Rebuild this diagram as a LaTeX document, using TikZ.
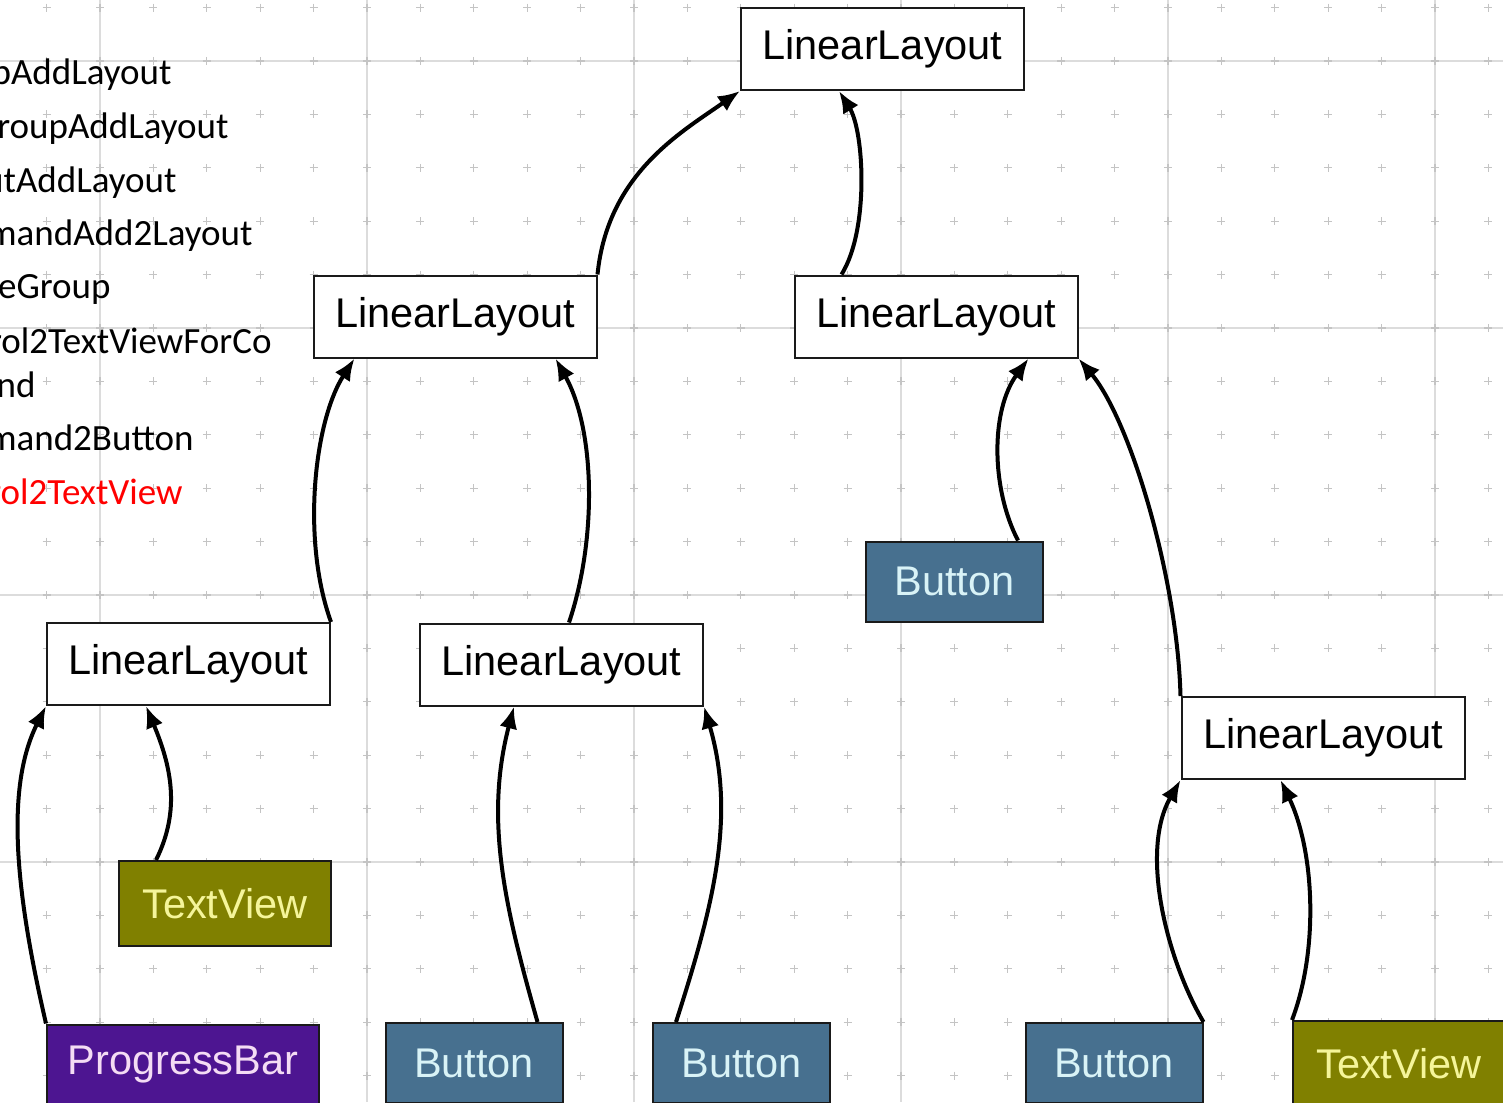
\documentclass[tikz,border=0pt]{standalone}
\usepackage{fontspec}
\usetikzlibrary{arrows.meta,calc}
\newfontfamily\boxfont{Liberation Sans}
\newfontfamily\notefont{Carlito}
\definecolor{gridln}{HTML}{DCDCDC}
\definecolor{gridtk}{HTML}{C4C4C4}
\definecolor{btnfill}{HTML}{47708F}
\definecolor{btntext}{HTML}{D9F3F7}
\definecolor{tvfill}{HTML}{808000}
\definecolor{tvtext}{HTML}{F5F59A}
\definecolor{pbfill}{HTML}{4D1591}
\definecolor{pbtext}{HTML}{F4DCF4}
\definecolor{boxline}{HTML}{1A1A1A}
\tikzset{
  gridline/.style={draw=gridln, line width=0.75pt},
  gridtick/.style={draw=gridtk, line width=0.6pt},
  widget/.style={draw=boxline, line width=1pt, inner sep=0pt,
    font=\boxfont\fontsize{20.75}{24}\selectfont},
  layoutbox/.style={widget, fill=white, text=black,
    minimum width=141.5pt, minimum height=41pt},
  buttonbox/.style={widget, fill=btnfill, text=btntext,
    minimum width=88.5pt, minimum height=40pt},
  textviewbox/.style={widget, fill=tvfill, text=tvtext,
    minimum width=106pt, minimum height=42.5pt},
  progressbox/.style={widget, fill=pbfill, text=pbtext,
    minimum width=136pt, minimum height=40pt},
  note/.style={inner sep=0pt, anchor=base east,
    font=\notefont\fontsize{18.5}{22}\selectfont},
  link/.style={draw=black, line width=2pt,
    -{Latex[length=11pt,width=9pt]}},
}
\begin{document}
\begin{tikzpicture}[x=0.5pt, y=-0.5pt]
  \useasboundingbox (0,0) rectangle (1503,1102);
  \clip (0,0) rectangle (1503,1102);
  \fill[white] (0,0) rectangle (1503,1102);

  % background grid: major lines and small cross ticks
  \foreach \gx in {100,367,634,901,1168,1435}
    \draw[gridline] (\gx,0) -- (\gx,1102);
  \foreach \gy in {61,328,595,862}
    \draw[gridline] (0,\gy) -- (1503,\gy);
  \foreach \i in {-2,...,26}
    \foreach \j in {-1,...,20}
      \draw[gridtick] ({100+53.4*\i},{61+53.4*\j}) +(-4,0) -- +(4,0)
                      +(0,-4) -- +(0,4);

  % command list on the left (runs past the left edge)
  \node[note] (n1) at (172,85)  {pAddLayout};
  \node[note] (n2) at (229,138) {roupAddLayout};
  \node[note] (n3) at (177,192) {utAddLayout};
  \node[note] (n4) at (253,245) {mandAdd2Layout};
  \node[note] (n5) at (111,298) {eGroup};
  \node[note] (n6) at (272,353) {rol2TextViewForCo};
  \node[note] (n7) at (36,397)  {nd};
  \node[note] (n8) at (194,450) {mand2Button};
  \node[note, text=red] (n9) at (183,504) {rol2TextView};

  % view hierarchy
  \node[layoutbox] (top) at (882.5,49)  {LinearLayout};
  \node[layoutbox] (ll2) at (455,316.5) {LinearLayout};
  \node[layoutbox] (ll3) at (936,316.5) {LinearLayout};
  \node[layoutbox] (ll4) at (188.5,664) {LinearLayout};
  \node[layoutbox] (ll5) at (561.5,664.5) {LinearLayout};
  \node[layoutbox] (ll6) at (1323,738)  {LinearLayout};
  \node[buttonbox] (bm) at (954.5,581.5) {Button};
  \node[textviewbox] (tv1) at (225,903.5) {TextView};
  \node[progressbox] (pb) at (183,1064.5) {ProgressBar};
  \node[buttonbox] (ba) at (474,1063)   {Button};
  \node[buttonbox] (bb) at (741.5,1063) {Button};
  \node[buttonbox] (bc) at (1114,1063)  {Button};
  \node[textviewbox] (tv2) at (1399,1063.5) {TextView};

  % child -> parent links
  \draw[link] (pb.north west) .. controls +(-29,-125) and +(-42,84) .. (ll4.south west);
  \draw[link] ($(tv1.north west)+(38,0)$) .. controls +(25,-50) and +(25,60) .. ($(ll4.south west)+(100,0)$);
  \draw[link] ($(ba.north east)+(-26,0)$) .. controls +(-32,-113) and +(-30,114) .. ($(ll5.south west)+(95,0)$);
  \draw[link] ($(bb.north west)+(24,0)$) .. controls +(38,-118) and +(32,109) .. (ll5.south east);
  \draw[link] (ll4.north east) .. controls +(-30,-83) and +(-40,62) .. ($(ll2.south west)+(42,0)$);
  \draw[link] ($(ll5.north west)+(150,0)$) .. controls +(28,-83) and +(40,72) .. ($(ll2.south east)+(-42,0)$);
  \draw[link] (ll2.north east) .. controls +(10,-100) and +(-60,42) .. (top.south west);
  \draw[link] ($(ll3.north west)+(48,0)$) .. controls +(28,-45) and +(25,40) .. ($(top.south west)+(99,0)$);
  \draw[link] ($(bm.north east)+(-26,0)$) .. controls +(-27,-52) and +(-38,52) .. ($(ll3.south east)+(-50,0)$);
  \draw[link] (ll6.north west) .. controls +(-3,-117) and +(52,62) .. (ll3.south east);
  \draw[link] (bc.north east) .. controls +(-37,-63) and +(-41,71) .. (ll6.south west);
  \draw[link] (tv2.north west) .. controls +(27,-71) and +(34,71) .. ($(ll6.south west)+(100,0)$);
\end{tikzpicture}
\end{document}
